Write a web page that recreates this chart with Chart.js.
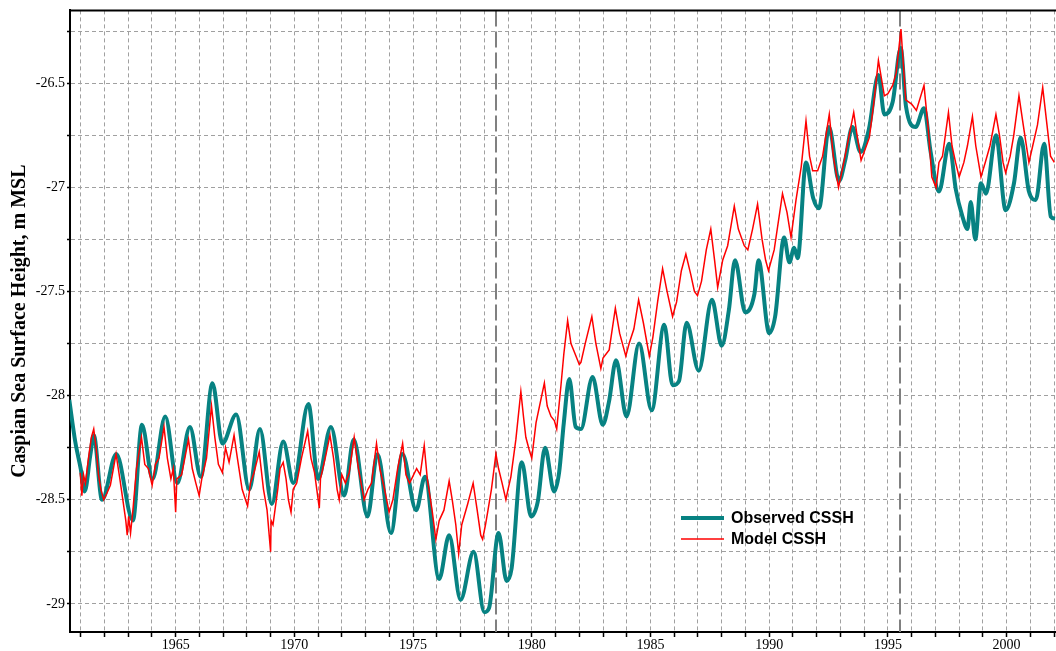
<!DOCTYPE html>
<html>
<head>
<meta charset="utf-8">
<title>Caspian Sea Surface Height</title>
<script src="https://cdn.jsdelivr.net/npm/chart.js@4.4.1/dist/chart.umd.min.js"></script>
<style>
  html, body { margin: 0; padding: 0; background: #fff; }
  #wrap { width: 1056px; height: 651px; }
</style>
</head>
<body>
<div id="wrap"><canvas id="cssh" width="1056" height="651"></canvas></div>
<script>
// observed level (teal)
const obsYears = [
  1960.52, 1960.77, 1961.0, 1961.17, 1961.4, 1961.55, 1961.9, 1962.5, 1963.2, 1963.58,
  1964.03, 1964.56, 1965.07, 1965.6, 1966.06, 1966.55, 1966.97, 1967.55, 1968.1, 1968.55,
  1969.05, 1969.53, 1969.96, 1970.59, 1971.0, 1971.54, 1972.1, 1972.5, 1973.08, 1973.5,
  1974.07, 1974.55, 1975.13, 1975.5, 1976.1, 1976.52, 1977.0, 1977.55, 1978.0, 1978.2,
  1978.6, 1978.94, 1979.15, 1979.58, 1979.97, 1980.25, 1980.56, 1980.94, 1981.15, 1981.35,
  1981.58, 1981.85, 1982.07, 1982.56, 1982.99, 1983.25, 1983.55, 1983.99, 1984.52, 1985.05,
  1985.58, 1985.93, 1986.2, 1986.52, 1987.03, 1987.59, 1988.0, 1988.3, 1988.56, 1988.99,
  1989.38, 1989.55, 1990.0, 1990.25, 1990.63, 1990.85, 1991.05, 1991.2, 1991.55, 1991.85,
  1992.1, 1992.52, 1992.94, 1993.2, 1993.5, 1993.85, 1994.2, 1994.6, 1994.85, 1995.2,
  1995.54, 1995.76, 1996.17, 1996.52, 1996.8, 1997.15, 1997.58, 1997.86, 1998.14, 1998.35,
  1998.49, 1998.68, 1998.92, 1999.13, 1999.55, 1999.96, 2000.31, 2000.59, 2000.94, 2001.23,
  2001.58, 2001.86, 2002.04
];
const obsLevels = [
  -28.02, -28.22, -28.35, -28.46, -28.29, -28.19, -28.50, -28.28, -28.60, -28.14,
  -28.40, -28.10, -28.42, -28.15, -28.39, -27.94, -28.23, -28.09, -28.45, -28.16,
  -28.52, -28.22, -28.42, -28.04, -28.40, -28.15, -28.48, -28.21, -28.58, -28.28,
  -28.66, -28.28, -28.55, -28.39, -28.88, -28.67, -28.98, -28.75, -29.04, -29.02,
  -28.66, -28.89, -28.83, -28.32, -28.58, -28.51, -28.25, -28.46, -28.37, -28.13,
  -27.92, -28.15, -28.16, -27.91, -28.14, -28.03, -27.83, -28.10, -27.75, -28.07,
  -27.66, -27.95, -27.93, -27.65, -27.88, -27.54, -27.76, -27.59, -27.35, -27.60,
  -27.51, -27.35, -27.70, -27.62, -27.24, -27.36, -27.29, -27.34, -26.88, -27.05,
  -27.10, -26.71, -26.97, -26.87, -26.71, -26.83, -26.72, -26.46, -26.65, -26.59,
  -26.33, -26.61, -26.71, -26.62, -26.83, -27.02, -26.79, -27.01, -27.14, -27.20,
  -27.07, -27.25, -26.98, -27.03, -26.75, -27.11, -26.98, -26.76, -27.02, -27.06,
  -26.79, -27.14, -27.15
];

// model level (red)
const modelYears = [
  1960.98, 1961.05, 1961.12, 1961.2, 1961.34, 1961.45, 1961.55, 1961.65, 1961.75, 1961.85,
  1961.97, 1962.1, 1962.25, 1962.49, 1962.65, 1962.8, 1962.9, 1962.96, 1963.02, 1963.1,
  1963.2, 1963.35, 1963.56, 1963.7, 1963.85, 1964.01, 1964.15, 1964.3, 1964.51, 1964.65,
  1964.8, 1964.9, 1965.0, 1965.05, 1965.25, 1965.54, 1965.7, 1965.85, 1965.99, 1966.1,
  1966.3, 1966.51, 1966.65, 1966.8, 1966.97, 1967.1, 1967.25, 1967.46, 1967.6, 1967.8,
  1968.03, 1968.15, 1968.3, 1968.52, 1968.7, 1968.85, 1969.0, 1969.02, 1969.1, 1969.3,
  1969.4, 1969.53, 1969.65, 1969.75, 1969.86, 1969.95, 1970.1, 1970.3, 1970.56, 1970.7,
  1970.85, 1971.05, 1971.1, 1971.3, 1971.5, 1971.65, 1971.8, 1971.89, 1972.0, 1972.15,
  1972.31, 1972.52, 1972.7, 1972.94, 1973.1, 1973.25, 1973.46, 1973.6, 1973.8, 1973.99,
  1974.15, 1974.35, 1974.56, 1974.7, 1974.85, 1974.98, 1975.15, 1975.3, 1975.47, 1975.6,
  1975.8, 1975.96, 1976.1, 1976.3, 1976.52, 1976.65, 1976.8, 1976.92, 1977.05, 1977.3,
  1977.53, 1977.7, 1977.85, 1977.93, 1978.05, 1978.14, 1978.3, 1978.49, 1978.6, 1978.75,
  1978.91, 1979.0, 1979.12, 1979.33, 1979.54, 1979.65, 1979.75, 1979.89, 1980.0, 1980.18,
  1980.53, 1980.65, 1980.81, 1980.95, 1981.05, 1981.23, 1981.35, 1981.51, 1981.65, 1981.86,
  1982.0, 1982.07, 1982.25, 1982.53, 1982.7, 1982.91, 1983.0, 1983.26, 1983.52, 1983.7,
  1983.96, 1984.1, 1984.3, 1984.5, 1984.7, 1984.95, 1985.1, 1985.3, 1985.51, 1985.7,
  1985.93, 1986.1, 1986.3, 1986.49, 1986.7, 1986.85, 1986.98, 1987.15, 1987.35, 1987.54,
  1987.7, 1987.83, 1988.04, 1988.25, 1988.53, 1988.7, 1988.95, 1989.1, 1989.3, 1989.51,
  1989.7, 1989.85, 1989.97, 1990.21, 1990.56, 1990.75, 1990.92, 1991.13, 1991.35, 1991.55,
  1991.7, 1991.83, 1992.04, 1992.25, 1992.53, 1992.7, 1992.92, 1993.16, 1993.56, 1993.7,
  1993.87, 1994.0, 1994.22, 1994.4, 1994.6, 1994.85, 1995.0, 1995.2, 1995.35, 1995.55,
  1995.75, 1996.0, 1996.2, 1996.52, 1996.7, 1996.85, 1997.03, 1997.15, 1997.3, 1997.55,
  1997.7, 1997.85, 1998.0, 1998.2, 1998.35, 1998.56, 1998.7, 1998.92, 1999.1, 1999.3,
  1999.55, 1999.7, 1999.85, 1999.96, 2000.15, 2000.3, 2000.52, 2000.7, 2000.94, 2001.1,
  2001.3, 2001.52, 2001.7, 2001.85, 2002.01
];
const modelLevels = [
  -28.37, -28.48, -28.38, -28.42, -28.29, -28.20, -28.16, -28.25, -28.38, -28.45,
  -28.50, -28.47, -28.43, -28.28, -28.40, -28.52, -28.60, -28.67, -28.58, -28.66,
  -28.55, -28.35, -28.20, -28.33, -28.35, -28.43, -28.33, -28.30, -28.15, -28.30,
  -28.40, -28.35, -28.56, -28.40, -28.38, -28.21, -28.35, -28.42, -28.48, -28.40,
  -28.30, -28.05, -28.20, -28.33, -28.37, -28.25, -28.32, -28.19, -28.30, -28.45,
  -28.53, -28.42, -28.37, -28.27, -28.45, -28.55, -28.75, -28.60, -28.62, -28.45,
  -28.35, -28.32, -28.40, -28.50, -28.56, -28.45, -28.42, -28.30, -28.17, -28.30,
  -28.37, -28.54, -28.40, -28.30, -28.19, -28.30, -28.45, -28.50, -28.38, -28.42,
  -28.37, -28.20, -28.35, -28.50, -28.45, -28.42, -28.23, -28.35, -28.45, -28.56,
  -28.50, -28.35, -28.23, -28.38, -28.42, -28.39, -28.35, -28.38, -28.24, -28.40,
  -28.55, -28.69, -28.60, -28.55, -28.41, -28.50, -28.62, -28.76, -28.62, -28.52,
  -28.42, -28.55, -28.67, -28.69, -28.62, -28.56, -28.45, -28.28, -28.35, -28.42,
  -28.50, -28.45, -28.39, -28.21, -27.98, -28.10, -28.20, -28.26, -28.30, -28.13,
  -27.94, -28.05, -28.10, -28.12, -28.16, -27.95, -27.80, -27.64, -27.75, -27.81,
  -27.85, -27.84, -27.75, -27.62, -27.75, -27.87, -27.82, -27.78, -27.58, -27.70,
  -27.81, -27.75, -27.68, -27.54, -27.65, -27.81, -27.72, -27.55, -27.39, -27.50,
  -27.62, -27.55, -27.40, -27.32, -27.42, -27.50, -27.52, -27.45, -27.30, -27.20,
  -27.35, -27.48, -27.35, -27.28, -27.09, -27.20, -27.28, -27.30, -27.20, -27.08,
  -27.25, -27.35, -27.40, -27.30, -27.03, -27.12, -27.24, -27.06, -26.90, -26.68,
  -26.85, -26.92, -26.92, -26.85, -26.65, -26.85, -27.00, -26.87, -26.64, -26.75,
  -26.87, -26.83, -26.76, -26.60, -26.39, -26.56, -26.55, -26.51, -26.45, -26.24,
  -26.58, -26.60, -26.63, -26.51, -26.72, -26.95, -27.00, -26.88, -26.85, -26.64,
  -26.80, -26.88, -26.95, -26.88, -26.80, -26.66, -26.80, -26.95, -26.88, -26.80,
  -26.65, -26.75, -26.88, -26.93, -26.85, -26.75, -26.56, -26.70, -26.88, -26.80,
  -26.70, -26.52, -26.70, -26.85, -26.88
];

// dashed reference years
const markerYears = [1978.49, 1995.5];

const xMin = 1960.55, xMax = 2002.08;
const yMin = -29.135, yMax = -26.15;

function toPoints(xs, ys) {
    return xs.map((x, i) => ({ x: x, y: ys[i] }));
}

const serif = '"Liberation Serif", "Times New Roman", serif';

const framePlugin = {
    id: 'frame',
    beforeDatasetsDraw(chart) {
        const { ctx, chartArea, scales } = chart;
        ctx.save();
        ctx.strokeStyle = '#808080';
        ctx.lineWidth = 2;
        ctx.setLineDash([16, 5]);
        markerYears.forEach(yr => {
            const px = Math.round(scales.x.getPixelForValue(yr));
            ctx.beginPath();
            ctx.moveTo(px, chartArea.top);
            ctx.lineTo(px, chartArea.bottom);
            ctx.stroke();
        });
        ctx.restore();
    },
    afterDraw(chart) {
        const { ctx, chartArea } = chart;
        ctx.save();
        // top frame line
        ctx.strokeStyle = '#000';
        ctx.lineWidth = 2;
        ctx.beginPath();
        ctx.moveTo(chartArea.left, chartArea.top);
        ctx.lineTo(chartArea.right, chartArea.top);
        ctx.stroke();

        // legend inside the plot
        const items = [
            { label: 'Observed CSSH', color: '#078282', width: 4, y: 518 },
            { label: 'Model CSSH', color: '#ff0000', width: 1.5, y: 539 }
        ];
        ctx.font = 'bold 16px "Liberation Sans", Arial, sans-serif';
        ctx.textBaseline = 'middle';
        ctx.fillStyle = '#000';
        items.forEach(it => {
            ctx.strokeStyle = it.color;
            ctx.lineWidth = it.width;
            ctx.beginPath();
            ctx.moveTo(681, it.y);
            ctx.lineTo(724, it.y);
            ctx.stroke();
            ctx.fillText(it.label, 731, it.y + 1);
        });
        ctx.restore();
    }
};

const ctx = document.getElementById('cssh').getContext('2d');
new Chart(ctx, {
    type: 'line',
    data: {
        datasets: [
            {
                label: 'Model CSSH',
                data: toPoints(modelYears, modelLevels),
                borderColor: '#ff0000',
                borderWidth: 1.5,
                pointRadius: 0,
                tension: 0,
                order: 0
            },
            {
                label: 'Observed CSSH',
                data: toPoints(obsYears, obsLevels),
                borderColor: '#078282',
                borderWidth: 4,
                pointRadius: 0,
                tension: 0.4,
                cubicInterpolationMode: 'monotone',
                order: 1
            }
        ]
    },
    options: {
        responsive: false,
        animation: false,
        layout: { padding: { top: 10, right: 0, left: 0, bottom: 0 } },
        plugins: {
            legend: { display: false },
            tooltip: { enabled: false }
        },
        scales: {
            x: {
                type: 'linear',
                min: xMin,
                max: xMax,
                afterFit: s => { s.height = 19; },
                border: { display: true, color: '#000', width: 2, dash: [4, 3] },
                grid: {
                    color: '#a0a0a0',
                    lineWidth: 1,
                    tickLength: 5,
                    tickColor: '#000',
                    tickWidth: 1.5,
                    tickBorderDash: []
                },
                ticks: {
                    stepSize: 1,
                    includeBounds: false,
                    autoSkip: false,
                    maxRotation: 0,
                    padding: 0,
                    color: '#000',
                    font: { family: serif, size: 14 },
                    callback: v => (Math.abs(v % 5) < 1e-6 ? String(Math.round(v)) : '')
                }
            },
            y: {
                min: yMin,
                max: yMax,
                afterFit: s => { s.width = 70; },
                border: { display: true, color: '#000', width: 2, dash: [4, 3] },
                grid: {
                    color: '#a0a0a0',
                    lineWidth: 1,
                    tickLength: 3,
                    tickColor: '#000',
                    tickWidth: 1.5,
                    tickBorderDash: []
                },
                ticks: {
                    stepSize: 0.25,
                    includeBounds: false,
                    autoSkip: false,
                    padding: 2,
                    color: '#000',
                    font: { family: serif, size: 14 },
                    callback: v => {
                        const h = v * 2;
                        if (Math.abs(h - Math.round(h)) > 1e-6) return '';
                        return String(Math.round(v * 10) / 10);
                    }
                },
                title: {
                    display: true,
                    text: 'Caspian Sea Surface Height, m MSL',
                    color: '#000',
                    font: { family: serif, size: 20, weight: 'bold' },
                    padding: { top: 8, bottom: 0 }
                }
            }
        }
    },
    plugins: [framePlugin]
});
</script>
</body>
</html>
